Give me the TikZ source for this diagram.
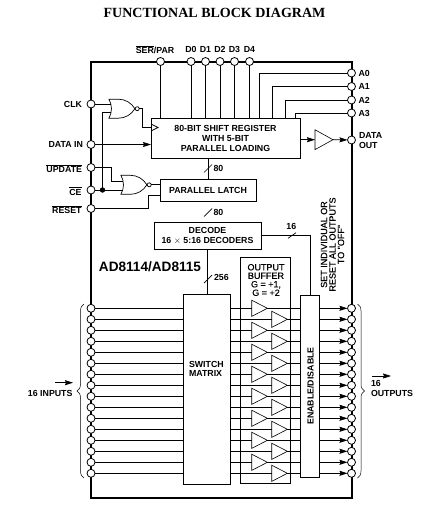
\documentclass[tikz,border=0pt]{standalone}
\usepackage{fontspec}
\setmainfont{Liberation Sans}
\newfontfamily\titlefont{Liberation Serif}
\newfontfamily\midfont[FakeBold=0.3]{Liberation Sans}
\usetikzlibrary{arrows.meta,decorations.pathreplacing,shapes.gates.logic.US}
\tikzset{
  lbl/.style={inner sep=0pt,outer sep=0pt,font=\fontsize{8.8}{10}\selectfont\bfseries},
  lblthin/.style={inner sep=0pt,outer sep=0pt,font=\fontsize{9}{8.5}\midfont},
  pinpad/.style={circle,draw,fill=white,inner sep=0pt,outer sep=0pt,minimum size=8,line width=0.8},
  blockbox/.style={rectangle,draw,lbl,align=center,line width=0.7},
  ampl/.pic={
    \draw[fill=white,line width=0.6] (0,-8.1) -- (15.7,0) -- (0,8.1) -- cycle;
    \coordinate (-in) at (0,0);
    \coordinate (-out) at (15.7,0);
  },
  norgate/.style={nor gate US,draw,logic gate inputs=nn,inner sep=0pt,outer sep=0pt,minimum height=19,minimum width=23,line width=0.7},
  flow/.style={-{Stealth[length=8,width=5,inset=1]}},
  brc/.style={decorate,decoration={brace,amplitude=7},line width=0.5}
}
\begin{document}
\begin{tikzpicture}[x=1pt,y=-1pt,line width=0.7]
\useasboundingbox (0,0) rectangle (435,519);
\node[inner sep=0pt,font=\fontsize{14}{15}\titlefont\bfseries] (title) at (214.5,13) {FUNCTIONAL BLOCK DIAGRAM};

% chip outline
\coordinate (NW) at (91,62);
\coordinate (SE) at (352,498);
\draw[line width=1.5] (NW) rectangle (SE);

% blocks
\node[blockbox,minimum width=149,minimum height=40] (shift) at (225.5,138) {80-BIT SHIFT REGISTER\\WITH 5-BIT\\PARALLEL LOADING};
\node[blockbox,minimum width=96,minimum height=22] (latch) at (208,190) {PARALLEL LATCH};
\node[blockbox,minimum width=107,minimum height=27] (decode) at (207.5,235.5) {DECODE\\16 $\times$ 5:16 DECODERS};
\node[blockbox,minimum width=47.5,minimum height=190] (switch) at (207,389) {};
\node[blockbox,minimum width=50,minimum height=226] (outbuf) at (265.7,370) {};
\node[blockbox,fill=white,minimum width=19,minimum height=182] (enable) at (310.2,386) {};

% pins on the chip edge
\foreach \p/\x in {SERPAR/160.5,D0/191,D1/205.5,D2/220,D3/234.5,D4/249.5}
{
  \node[pinpad] (\p) at (\x,61.5) {};
}
\foreach \p/\y in {A0/73,A1/86.5,A2/100,A3/113,DOUT/140}
{
  \node[pinpad] (\p) at (351.5,\y) {};
}
\foreach \p/\y in {CLK/104,DIN/144.5,UPD/167.5,CE/190,RESET/208.5}
{
  \node[pinpad] (\p) at (91,\y) {};
}

% shift register connections
\foreach \p in {SERPAR,D0,D1,D2,D3,D4}
{
  \draw (\p) -- (\p |- shift.north);
}
\coordinate (a0) at (259,118);
\coordinate (a1) at (272.5,118);
\coordinate (a2) at (285.5,118);
\coordinate (a3) at (295.5,118);
\foreach \p/\q in {A0/a0,A1/a1,A2/a2,A3/a3}
{
  \draw (\p) -| (\q);
}
\draw[flow] (DIN) -- (DIN -| shift.west);

% gates
\node[norgate] (norclk) at (120,108.7) {};
\node[norgate] (norlatch) at (132,184.8) {};
\coordinate (clkin) at (151,127.5);
\coordinate (tap) at (102.5,190);
\coordinate (updbend) at (111,167.5);
\coordinate (clkbend) at (142,108.7);
\coordinate (rstbend) at (148.5,195);
\draw (CLK) -- (CLK -| norclk.input 1);
\draw (norclk.input 2) -| (tap);
\draw (CE) -- (CE -| norlatch.input 2);
\draw (UPD) -- (updbend) |- (norlatch.input 1);
\draw (norclk.output) -- (clkbend) |- (clkin);
\draw (norlatch.output) -- (norlatch.output -| latch.west);
\draw (RESET) -| (rstbend) -- (rstbend -| latch.west);
\filldraw (tap) circle (2.3);
\draw (151,124) -- (158,127.5) -- (151,131);

% data path between blocks
\draw (shift.south -| latch.north) -- (latch.north);
\draw (latch.south) -- (latch.south -| decode.north);
\draw (decode.south -| switch.north) -- (switch.north);
\draw (decode.east) -| (enable.north);
\foreach \x/\y in {208/168.5,208/212.5,208/279}
{
  \draw (\x-4,\y+4) -- (\x+4,\y-4);
}
\draw (288,238.3) -- (296,232.7);
\node[lbl,anchor=west] (n80a) at (213.5,168.5) {80};
\node[lbl,anchor=west] (n80b) at (213.5,212.7) {80};
\node[lbl,anchor=west] (n256) at (214,277.5) {256};
\node[lbl] (n16) at (291.3,226.7) {16};

% data out
\pic[xscale=1.146,yscale=1.227] (outamp) at (315,139.7) {ampl};
\draw[flow] (outamp-in -| shift.east) -- (outamp-in);
\draw[flow] (outamp-out) -- (DOUT);

% rows of the crossbar
\foreach \i in {0,...,15}
{
  \node[pinpad] (I\i) at (91,{308.3+11*\i}) {};
  \node[pinpad] (O\i) at (351.5,{308.3+11*\i}) {};
  \draw (I\i) -- (I\i -| switch.west);
  \draw[flow] (O\i -| enable.east) -- (O\i);
}
\foreach \i in {0,2,...,14}
{
  \pic (amp\i) at (251.7,{308.3+11*\i}) {ampl};
}
\foreach \i in {1,3,...,15}
{
  \pic (amp\i) at (271.7,{308.3+11*\i}) {ampl};
}
\foreach \i in {0,...,15}
{
  \draw (amp\i-in -| switch.east) -- (amp\i-in);
  \draw (amp\i-out) -- (amp\i-out -| enable.west);
}

% braces
\coordinate (bl1) at (84,478);
\coordinate (bl2) at (84,304);
\coordinate (br1) at (357.5,304);
\coordinate (br2) at (357.5,478);
\draw[brc] (bl1) -- (bl2);
\draw[brc] (br1) -- (br2);

% labels
\node[lbl,anchor=east] (lclk) at (82,104.5) {CLK};
\node[lbl,anchor=east] (ldin) at (83,144.5) {DATA IN};
\node[lbl,anchor=east] (lupd) at (82,168.5) {$\overline{\hbox{UPDATE}}$};
\node[lbl,anchor=east] (lce) at (81.5,191) {$\overline{\hbox{CE}}$};
\node[lbl,anchor=east] (lrst) at (81.5,209.5) {$\overline{\hbox{RESET}}$};
\node[lbl] (lser) at (155,49.5) {$\overline{\hbox{SER}}$/PAR};
\foreach \p in {D0,D1,D2,D3,D4}
{
  \node[lbl] (l\p) at (\p |- 0,49.5) {\p};
}
\foreach \p in {A0,A1,A2,A3}
{
  \node[lbl,anchor=west] (l\p) at (358.5,0 |- \p) {\p};
}
\node[lbl,anchor=west,align=left] (ldout) at (359,140.7) {DATA\\OUT};
\node[inner sep=0pt,font=\fontsize{13.6}{14}\selectfont\bfseries] (part) at (150,267) {AD8114/AD8115};
\node[lblthin,align=center] (buftxt) at (266,280) {OUTPUT\\BUFFER\\G = +1,\\G = +2};
\node[lbl,anchor=west,align=left,font=\fontsize{8.8}{9}\selectfont\bfseries] (swtxt) at (189,369) {SWITCH\\MATRIX};
\node[lbl,rotate=90] (entxt) at (310.5,386) {ENABLE/DISABLE};
\node[lblthin,rotate=90,align=center] (settxt) at (332.5,244.5) {SET INDIVIDUAL OR\\RESET ALL OUTPUTS\\TO "OFF"};
\node[lbl,anchor=east] (intxt) at (72.5,393.7) {16 INPUTS};
\node[lbl,anchor=west,align=left,font=\fontsize{8.8}{9.6}\selectfont\bfseries] (outtxt) at (371,388.5) {16\\OUTPUTS};
\coordinate (in1) at (55,382.7);
\coordinate (in2) at (73,382.7);
\coordinate (out1) at (372,376);
\coordinate (out2) at (391,376);
\draw[flow] (in1) -- (in2);
\draw[flow] (out1) -- (out2);
\end{tikzpicture}
\end{document}
